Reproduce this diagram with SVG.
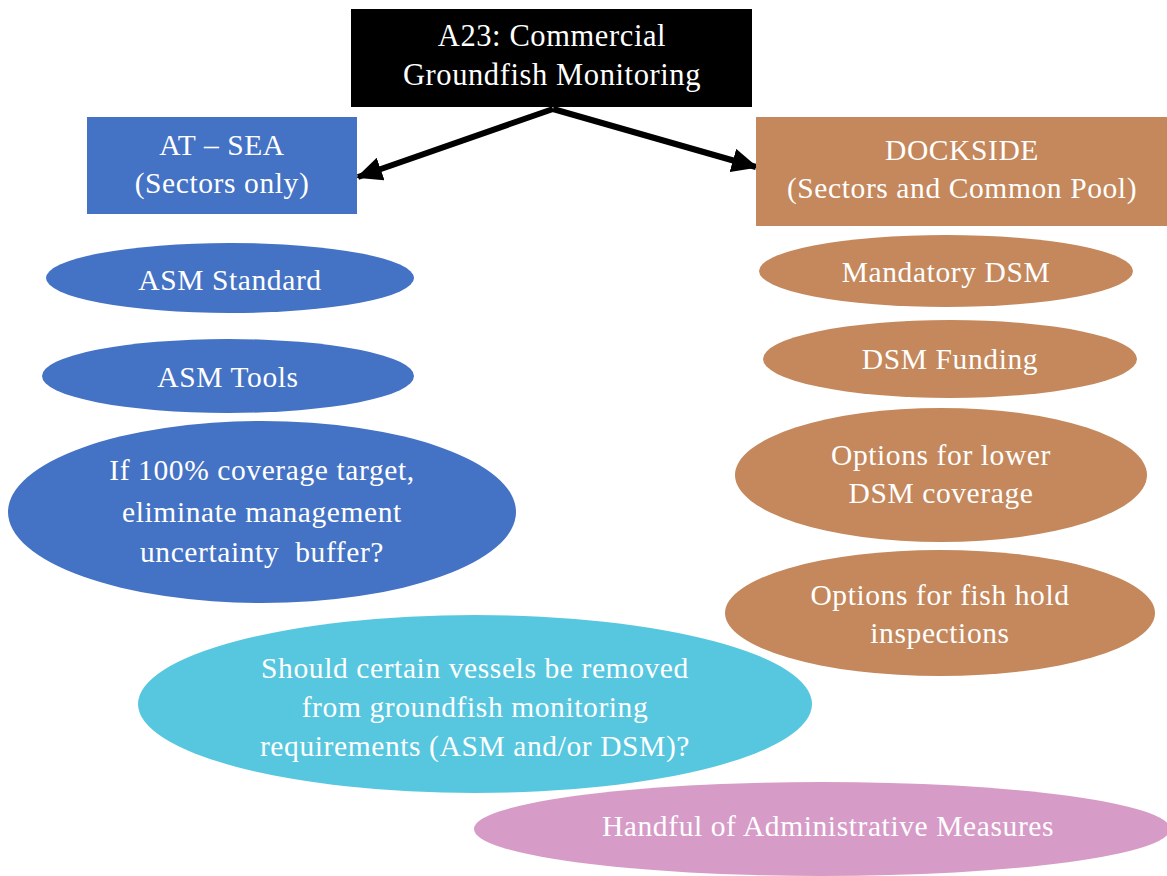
<svg xmlns="http://www.w3.org/2000/svg" width="1167" height="876" viewBox="0 0 1167 876">
<style>
text{font-family:"Liberation Serif","DejaVu Serif",serif;fill:#fff;text-anchor:middle;font-size:29.5px;letter-spacing:0.6px}
.big{font-size:30.5px}
.blue{fill:#4472C4}
.brown{fill:#C4885C}
.cyan{fill:#57C7E0}
.pink{fill:#D79BC8}
.conn{stroke:#000;stroke-width:6;fill:none}
</style>
<defs>
<marker id="ah" markerUnits="userSpaceOnUse" markerWidth="26" markerHeight="24" refX="24" refY="12" orient="auto">
<path d="M0,0 L26,12 L0,24 Z" fill="#000"/>
</marker>
</defs>
<rect width="1167" height="876" fill="#fff"/>
<g id="connectors">
<line class="conn" x1="553" y1="109" x2="358" y2="177" marker-end="url(#ah)"/>
<line class="conn" x1="553" y1="109" x2="756" y2="167" marker-end="url(#ah)"/>
</g>
<g id="title">
<rect x="351" y="9" width="401" height="98" fill="#000"/>
<text class="big" x="552" y="46">A23: Commercial</text>
<text class="big" x="552" y="85">Groundfish Monitoring</text>
</g>
<g id="atsea">
<rect class="blue" x="87" y="117" width="270" height="97"/>
<text x="222" y="155">AT – SEA</text>
<text x="222" y="193">(Sectors only)</text>
</g>
<g id="dockside">
<rect class="brown" x="756" y="117" width="411" height="109"/>
<text x="962" y="160">DOCKSIDE</text>
<text x="962" y="198">(Sectors and Common Pool)</text>
</g>
<g id="asm-standard">
<ellipse class="blue" cx="230" cy="278" rx="184" ry="35"/>
<text x="230" y="290">ASM Standard</text>
</g>
<g id="asm-tools">
<ellipse class="blue" cx="228" cy="376" rx="186" ry="37"/>
<text x="228" y="387">ASM Tools</text>
</g>
<g id="coverage-target">
<ellipse class="blue" cx="262" cy="512" rx="254" ry="91"/>
<text x="262" y="480">If 100% coverage target,</text>
<text x="262" y="522">eliminate management</text>
<text x="262" y="562" xml:space="preserve">uncertainty  buffer?</text>
</g>
<g id="mandatory-dsm">
<ellipse class="brown" cx="946" cy="271" rx="187" ry="36"/>
<text x="946" y="282">Mandatory DSM</text>
</g>
<g id="dsm-funding">
<ellipse class="brown" cx="950" cy="359" rx="187" ry="39"/>
<text x="950" y="369">DSM Funding</text>
</g>
<g id="lower-coverage">
<ellipse class="brown" cx="941" cy="475" rx="206" ry="67"/>
<text x="941" y="465">Options for lower</text>
<text x="941" y="503">DSM coverage</text>
</g>
<g id="fish-hold">
<ellipse class="brown" cx="940" cy="613" rx="215" ry="63"/>
<text x="940" y="605">Options for fish hold</text>
<text x="940" y="643">inspections</text>
</g>
<g id="vessels-removed">
<ellipse class="cyan" cx="475" cy="704" rx="337" ry="89"/>
<text x="475" y="678">Should certain vessels be removed</text>
<text x="475" y="717">from groundfish monitoring</text>
<text x="475" y="756">requirements (ASM and/or DSM)?</text>
</g>
<g id="admin-measures">
<ellipse class="pink" cx="822" cy="829" rx="348" ry="47"/>
<text x="828" y="836">Handful of Administrative Measures</text>
</g>
</svg>
